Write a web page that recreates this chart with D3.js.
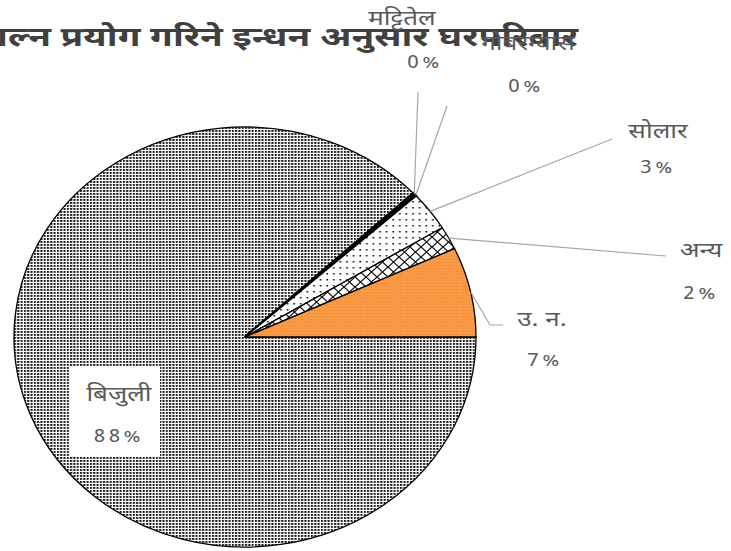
<!DOCTYPE html>
<html>
<head>
<meta charset="utf-8">
<script src="https://cdn.jsdelivr.net/npm/d3@7"></script>
<style>
  body { margin: 0; background: #fff; }
  svg { display: block; }
  text { font-family: "Noto Sans Devanagari", "Lohit Devanagari", "Noto Sans", sans-serif; }
</style>
</head>
<body>
<div id="chart"></div>
<script>
// chart data (percent of households)
const categories = ["बिजुली", "मट्टितेल", "गोबरग्यास", "सोलार", "अन्य", "उ. न."];
const shares = [87.9, 0.2, 0.1, 3.0, 1.8, 6.9];
const titleText = "बत्ती बाल्न प्रयोग गरिने इन्धन अनुसार घरपरिवार";

const width = 731, height = 551;
const cx = 245, cy = 337;
const radius = 210;
const stretchX = 1.1;   // the picture is a little wider than tall

const svg = d3.select("#chart").append("svg")
    .attr("width", width)
    .attr("height", height);

const defs = svg.append("defs");

// dense dots for bijuli
const pDense = defs.append("pattern").attr("id", "dense")
    .attr("patternUnits", "userSpaceOnUse").attr("width", 3).attr("height", 3);
pDense.append("rect").attr("width", 3).attr("height", 3).attr("fill", "#fff");
pDense.append("rect").attr("width", 1.9).attr("height", 1.9).attr("fill", "#1a1a1a");

// sparse dots for solar
const pSparse = defs.append("pattern").attr("id", "sparse")
    .attr("patternUnits", "userSpaceOnUse").attr("width", 6).attr("height", 6);
pSparse.append("rect").attr("width", 6).attr("height", 6).attr("fill", "#fff");
pSparse.append("rect").attr("x", 2).attr("y", 2).attr("width", 1.5).attr("height", 1.5).attr("fill", "#111");

// big diagonal cross hatch for anya
const pCross = defs.append("pattern").attr("id", "cross")
    .attr("patternUnits", "userSpaceOnUse").attr("width", 10).attr("height", 10);
pCross.append("rect").attr("width", 10).attr("height", 10).attr("fill", "#fff");
pCross.append("path").attr("d", "M0,0L10,10M10,0L0,10").attr("stroke", "#111").attr("stroke-width", 1.2);

// orange with faint dots
const pOrange = defs.append("pattern").attr("id", "orange")
    .attr("patternUnits", "userSpaceOnUse").attr("width", 3).attr("height", 3);
pOrange.append("rect").attr("width", 3).attr("height", 3).attr("fill", "#fa9a45");
pOrange.append("rect").attr("width", 1).attr("height", 1).attr("fill", "#e88a3a");

const fills = ["url(#dense)", "#fff", "#fff", "url(#sparse)", "url(#cross)", "url(#orange)"];

// title (runs off the left edge like the source)
svg.append("text")
    .attr("transform", "translate(578,46) scale(1.37,1)")
    .attr("text-anchor", "end")
    .attr("font-size", 27)
    .attr("font-weight", "bold")
    .attr("fill", "#404040")
    .text(titleText);

const pie = d3.pie().sort(null)
    .startAngle(Math.PI / 2)
    .endAngle(Math.PI / 2 + 2 * Math.PI)
    .value(d => d);

const arcs = pie(shares);
const arc = d3.arc().innerRadius(0).outerRadius(radius);

const pieG = svg.append("g")
    .attr("transform", `translate(${cx},${cy}) scale(${stretchX},1)`);

pieG.selectAll("path")
    .data(arcs)
    .enter()
    .append("path")
    .attr("d", arc)
    .attr("fill", (d, i) => fills[i])
    .attr("stroke", "#000")
    .attr("stroke-width", (d, i) => (i === 1 || i === 2) ? 2.5 : 1.3)
    .attr("vector-effect", "non-scaling-stroke");

// label placement (where the texts sit, and where leader lines bend)
const labelLayout = [
    { x: 119, y: 401, py: 442, box: [70, 367, 90, 90] },
    { x: 402, y: 25, px: 425, py: 68, end: [418, 92] },
    { x: 528, y: 50, px: 526, py: 92, end: [447, 106] },
    { x: 658, y: 138, py: 173, end: [612, 139] },
    { x: 701, y: 257, py: 299, end: [666, 256] },
    { x: 542, y: 326, px: 545, py: 366, bend: [490, 325], end: [503, 325] }
];

function edgePoint(d) {
    const a = (d.startAngle + d.endAngle) / 2;
    return [cx + stretchX * radius * Math.sin(a), cy - radius * Math.cos(a)];
}

const leaders = svg.append("g");
arcs.forEach((d, i) => {
    const L = labelLayout[i];
    if (!L.end) return;
    const pts = [edgePoint(d)];
    if (L.bend) pts.push(L.bend);
    pts.push(L.end);
    leaders.append("path")
        .attr("d", d3.line()(pts))
        .attr("fill", "none")
        .attr("stroke", "#a6a6a6")
        .attr("stroke-width", 1.2);
});

const labels = svg.append("g");
arcs.forEach((d, i) => {
    const L = labelLayout[i];
    const g = labels.append("g");
    if (L.box) {
        g.append("rect")
            .attr("x", L.box[0]).attr("y", L.box[1])
            .attr("width", L.box[2]).attr("height", L.box[3])
            .attr("fill", "#fff");
    }
    g.append("text")
        .attr("transform", `translate(${L.x},${L.y}) scale(1.3,1)`)
        .attr("text-anchor", "middle")
        .attr("font-size", 20)
        .attr("fill", "#595959")
        .text(categories[i]);
    g.append("text")
        .attr("transform", `translate(${L.px || L.x},${L.py}) scale(1.15,1)`)
        .attr("text-anchor", "middle")
        .attr("font-size", 18)
        .attr("letter-spacing", 3)
        .attr("fill", "#595959")
        .text(Math.round(shares[i]) + "%");
});
</script>
</body>
</html>
